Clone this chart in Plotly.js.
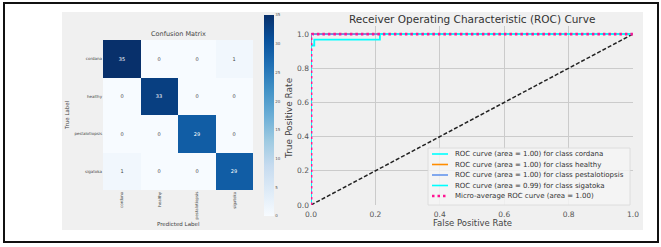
<!DOCTYPE html>
<html><head><meta charset="utf-8">
<script src="https://cdn.plot.ly/plotly-3.0.1.min.js"></script>
<style>html,body{margin:0;padding:0;background:#fff;}#g{width:661px;height:247px;}</style>
</head><body><div id="g"></div>
<script>
// ---- data ----
const classes = ['cordana', 'healthy', 'pestalotiopsis', 'sigatoka'];
const confusion = [
  [35, 0, 0, 1],
  [0, 33, 0, 0],
  [0, 0, 29, 0],
  [1, 0, 0, 29]
];
const cbTicks = [0, 5, 10, 15, 20, 25, 30, 35];
const rocTicks = [0.0, 0.2, 0.4, 0.6, 0.8, 1.0];

const fprCordana = [0, 0, 1];
const tprCordana = [0, 1, 1];
const fprHealthy = [0, 0, 1];
const tprHealthy = [0, 1, 1];
const fprPestalotiopsis = [0, 0, 1];
const tprPestalotiopsis = [0, 1, 1];
const fprSigatoka = [0, 0, 0.0102, 0.0102, 0.214, 0.214, 1];
const tprSigatoka = [0, 0.933, 0.933, 0.967, 0.967, 1, 1];
const fprMicro = [0, 0, 0.004, 1];
const tprMicro = [0, 0.99, 1, 1];
const diagX = [0, 1];
const diagY = [0, 1];

const aucs = [1.00, 1.00, 1.00, 0.99];
const microAuc = 1.00;
const classColors = ['#00ffff', '#ff8c00', '#6495ed', '#00ffff'];
const microColor = '#ff1493';

// ---- helpers (pixel -> paper) ----
const W = 661, H = 247;
const X = p => p / W;
const Y = p => 1 - p / H;
const FONT = 'DejaVu Sans, Liberation Sans, sans-serif';

const blues = [
  [0, '#f7fbff'], [0.125, '#deebf7'], [0.25, '#c6dbef'], [0.375, '#9ecae1'],
  [0.5, '#6baed6'], [0.625, '#4292c6'], [0.75, '#2171b5'], [0.875, '#08519c'], [1, '#08306b']
];

const rocSeries = [
  [fprCordana, tprCordana], [fprHealthy, tprHealthy],
  [fprPestalotiopsis, tprPestalotiopsis], [fprSigatoka, tprSigatoka]
];
const rocNames = classes.map((c, i) => 'ROC curve (area = ' + aucs[i].toFixed(2) + ') for class ' + c);
const microName = 'Micro-average ROC curve (area = ' + microAuc.toFixed(2) + ')';

const traces = [];
traces.push({
  type: 'heatmap', z: confusion, x: classes, y: classes,
  xaxis: 'x', yaxis: 'y', colorscale: blues, zmin: 0, zmax: 35,
  texttemplate: '%{z}', textfont: {size: 5, family: FONT},
  hoverinfo: 'skip',
  colorbar: {
    x: X(264), xanchor: 'left', thickness: 10, thicknessmode: 'pixels',
    len: 201, lenmode: 'pixels', y: Y(15), yanchor: 'top',
    outlinewidth: 0, ticks: '', tickvals: cbTicks, ticklabelposition: 'outside',
    tickfont: {size: 4, color: '#555', family: FONT}, xpad: 0, ypad: 0
  }
});
// diagonal
traces.push({type: 'scatter', mode: 'lines', x: diagX, y: diagY, xaxis: 'x2', yaxis: 'y2',
  line: {color: '#222', width: 1.5, dash: '4px,2px'}, showlegend: false, hoverinfo: 'skip'});
rocSeries.forEach((s, i) => {
  traces.push({type: 'scatter', mode: 'lines', x: s[0], y: s[1], xaxis: 'x2', yaxis: 'y2',
    name: rocNames[i], line: {color: classColors[i], width: 1.8}, showlegend: false});
});
traces.push({type: 'scatter', mode: 'lines', x: fprMicro, y: tprMicro, xaxis: 'x2', yaxis: 'y2',
  name: microName, line: {color: microColor, width: 2.8, dash: '2.5px,3px'}, showlegend: false});

// ---- manual legend ----
const legTop = 148, legRow = 10.5, legFirst = 154;
const shapes = [
  {type: 'rect', xref: 'paper', yref: 'paper', x0: X(62), x1: X(643), y0: Y(230), y1: Y(12),
   fillcolor: '#f0f0f0', line: {width: 0}, layer: 'below'},
  {type: 'rect', xref: 'paper', yref: 'paper', x0: X(4), x1: X(658), y0: Y(242), y1: Y(3),
   fillcolor: 'rgba(0,0,0,0)', line: {color: '#111', width: 2}},
  {type: 'rect', xref: 'paper', yref: 'paper', x0: X(428), x1: X(630), y0: Y(205), y1: Y(legTop),
   fillcolor: 'rgba(245,245,245,0.85)', line: {color: '#d8d8d8', width: 0.8}}
];
const annotations = [];
const legNames = rocNames.concat([microName]);
const legColors = classColors.concat([microColor]);
legNames.forEach((n, i) => {
  const yy = legFirst + i * legRow;
  const isMicro = i === legNames.length - 1;
  shapes.push({type: 'line', xref: 'paper', yref: 'paper', x0: X(432), x1: X(448), y0: Y(yy), y1: Y(yy),
    line: {color: legColors[i], width: isMicro ? 2.6 : 1.6, dash: isMicro ? '2.5px,3px' : 'solid'}});
  annotations.push({xref: 'paper', yref: 'paper', x: X(453), y: Y(yy), xanchor: 'left', yanchor: 'middle',
    text: n, showarrow: false, font: {size: 7, color: '#333', family: FONT}});
});
// titles
annotations.push(
  {xref: 'paper', yref: 'paper', x: X(178), y: Y(34), text: 'Confusion Matrix', showarrow: false,
   xanchor: 'center', yanchor: 'middle', font: {size: 6.5, color: '#444', family: FONT}},
  {xref: 'paper', yref: 'paper', x: X(178), y: Y(224), text: 'Predicted Label', showarrow: false,
   xanchor: 'center', yanchor: 'middle', font: {size: 5.5, color: '#444', family: FONT}},
  {xref: 'paper', yref: 'paper', x: X(67), y: Y(115), text: 'True Label', showarrow: false, textangle: -90,
   xanchor: 'center', yanchor: 'middle', font: {size: 5.5, color: '#444', family: FONT}},
  {xref: 'paper', yref: 'paper', x: X(472), y: Y(19), text: 'Receiver Operating Characteristic (ROC) Curve',
   showarrow: false, xanchor: 'center', yanchor: 'middle', font: {size: 10.5, color: '#333', family: FONT}},
  {xref: 'paper', yref: 'paper', x: X(472), y: Y(223), text: 'False Positive Rate', showarrow: false,
   xanchor: 'center', yanchor: 'middle', font: {size: 8.5, color: '#444', family: FONT}},
  {xref: 'paper', yref: 'paper', x: X(289), y: Y(118), text: 'True Positive Rate', showarrow: false, textangle: -90,
   xanchor: 'center', yanchor: 'middle', font: {size: 9, color: '#444', family: FONT}}
);

const layout = {
  width: W, height: H, margin: {l: 0, r: 0, t: 0, b: 0},
  paper_bgcolor: '#ffffff', plot_bgcolor: '#f0f0f0', showlegend: false,
  font: {family: FONT, color: '#444'},
  xaxis: {domain: [X(103), X(253)], anchor: 'y', tickangle: -90, showgrid: false, zeroline: false,
    ticks: '', tickfont: {size: 4, color: '#444'}, fixedrange: true},
  yaxis: {domain: [Y(190), Y(40)], anchor: 'x', autorange: 'reversed', showgrid: false, zeroline: false,
    ticks: '', tickfont: {size: 4, color: '#444'}, fixedrange: true},
  xaxis2: {domain: [X(311), X(633)], anchor: 'y2', range: [0, 1], tickvals: rocTicks, tickformat: '.1f',
    showgrid: true, gridcolor: '#cbcbcb', gridwidth: 1, zeroline: false, showline: false, ticks: '',
    ticklabelstandoff: 3, tickfont: {size: 7.5, color: '#555'}},
  yaxis2: {domain: [Y(205), Y(25.5)], anchor: 'x2', range: [0, 1.05], tickvals: rocTicks, tickformat: '.1f',
    showgrid: true, gridcolor: '#cbcbcb', gridwidth: 1, zeroline: false, showline: false, ticks: '',
    ticklabelstandoff: 1, tickfont: {size: 7.5, color: '#555'}},
  shapes: shapes, annotations: annotations
};

Plotly.newPlot('g', traces, layout, {displayModeBar: false, staticPlot: true});
</script>
</body></html>
